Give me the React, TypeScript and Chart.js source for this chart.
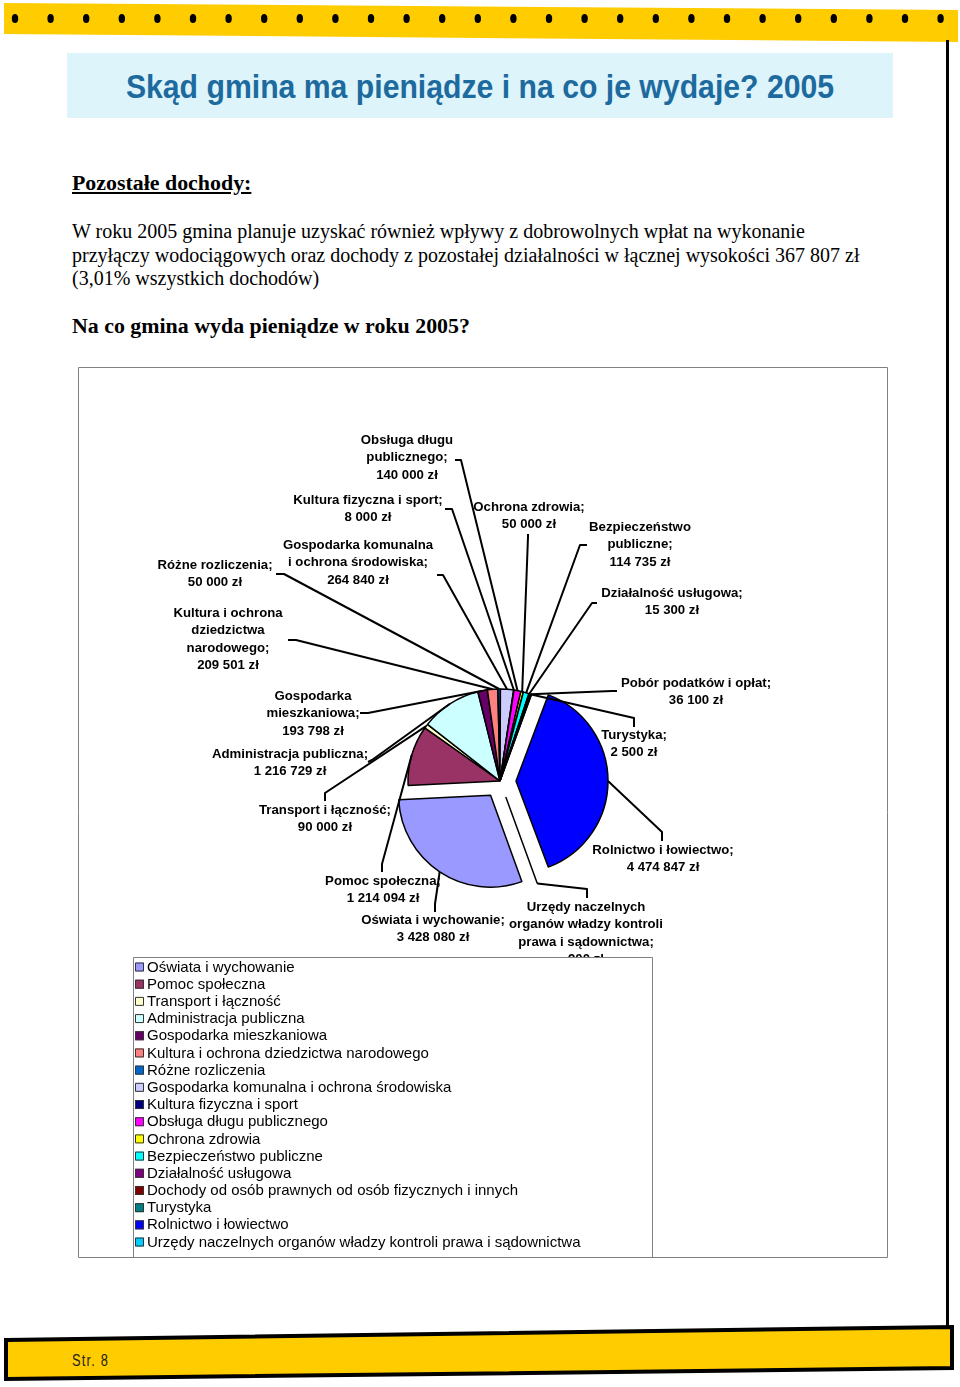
import React, { useEffect, useRef } from "react";
import { Chart, ArcElement, PieController } from "chart.js";

Chart.register(ArcElement, PieController);

// ---------- data ----------
const categories = [
  "Oświata i wychowanie",
  "Pomoc społeczna",
  "Transport i łączność",
  "Administracja publiczna",
  "Gospodarka mieszkaniowa",
  "Kultura i ochrona dziedzictwa narodowego",
  "Różne rozliczenia",
  "Gospodarka komunalna i ochrona środowiska",
  "Kultura fizyczna i sport",
  "Obsługa długu publicznego",
  "Ochrona zdrowia",
  "Bezpieczeństwo publiczne",
  "Działalność usługowa",
  "Dochody od osób prawnych od osób fizycznych i innych",
  "Turystyka",
  "Rolnictwo i łowiectwo",
  "Urzędy naczelnych organów władzy kontroli prawa i sądownictwa",
];

const pieLabelNames = [
  "Oświata i wychowanie",
  "Pomoc społeczna",
  "Transport i łączność",
  "Administracja publiczna",
  "Gospodarka\nmieszkaniowa",
  "Kultura i ochrona\ndziedzictwa\nnarodowego",
  "Różne rozliczenia",
  "Gospodarka komunalna\ni ochrona środowiska",
  "Kultura fizyczna i sport",
  "Obsługa długu\npublicznego",
  "Ochrona zdrowia",
  "Bezpieczeństwo\npubliczne",
  "Działalność usługowa",
  "Pobór podatków i opłat",
  "Turystyka",
  "Rolnictwo i łowiectwo",
  "Urzędy naczelnych\norganów władzy kontroli\nprawa i sądownictwa",
];

const values = [
  3428080, 1214094, 90000, 1216729, 193798, 209501, 50000, 264840, 8000,
  140000, 50000, 114735, 15300, 36100, 2500, 4474847, 900,
];

const sliceColors = [
  "#9999FF", "#993366", "#FFFFCC", "#CCFFFF", "#660066", "#FF8080",
  "#0066CC", "#CCCCFF", "#000080", "#FF00FF", "#FFFF00", "#00FFFF",
  "#800080", "#800000", "#008080", "#0000FF", "#00CCFF",
];

// ---------- layout / style ----------
const OX = 78; // canvas origin on page
const OY = 367;
const CW = 810;
const CH = 891;
const PIE_RADIUS = 92;
const explode: Record<number, number> = { 0: 17, 15: 16, 16: 17 };

// label text block (centre x, first line y) and leader anchor/elbow, page coords
const labelLayout = [
  { x: 433, y: 920, ax: 435, ay: 912, ex: 435, ey: 904 },
  { x: 383, y: 881, ax: 382, ay: 872, ex: 382, ey: 864 },
  { x: 325, y: 810, ax: 325, ay: 801, ex: 325, ey: 793 },
  { x: 290, y: 754, ax: 368, ay: 762, ex: 372, ey: 760 },
  { x: 313, y: 696, ax: 360, ay: 713, ex: 368, ey: 713 },
  { x: 228, y: 613, ax: 288, ay: 640, ex: 296, ey: 640 },
  { x: 215, y: 565, ax: 276, ay: 574, ex: 284, ey: 574 },
  { x: 358, y: 545, ax: 437, ay: 575, ex: 443, ey: 575 },
  { x: 368, y: 500, ax: 445, ay: 509, ex: 452, ey: 509 },
  { x: 407, y: 440, ax: 455, ay: 460, ex: 461, ey: 460 },
  { x: 529, y: 507, ax: 528, ay: 534, ex: 528, ey: 537 },
  { x: 640, y: 527, ax: 587, ay: 545, ex: 580, ey: 545 },
  { x: 672, y: 593, ax: 597, ay: 603, ex: 592, ey: 603 },
  { x: 696, y: 683, ax: 617, ay: 691, ex: 612, ey: 691 },
  { x: 634, y: 735, ax: 634, ay: 727, ex: 634, ey: 718 },
  { x: 663, y: 850, ax: 662, ay: 841, ex: 662, ey: 832 },
  { x: 586, y: 907, ax: 587, ay: 898, ex: 587, ey: 889 },
];

function offsetFor(i: number): number {
  const d = explode[i];
  if (!d) return 0;
  return 4 * d; // chart.js translates arcs by offset / 4
}

function fmt(v: number): string {
  return String(v).replace(/\B(?=(\d{3})+(?!\d))/g, " ") + " zł";
}

const LABEL_FONT = 'bold 13.2px "Liberation Sans", Arial, sans-serif';
const LEGEND_FONT = '15px "Liberation Sans", Arial, sans-serif';

const piePlugin = {
  id: "pieDecor",
  beforeDatasetsDraw(chart: any) {
    const meta = chart.getDatasetMeta(0);
    meta.data.forEach((arc: any) => {
      const off = (arc.options.offset || 0) / 4;
      const circ = arc.endAngle - arc.startAngle;
      const fix = 1 - Math.sin(Math.min(Math.PI, circ));
      arc.outerRadius = PIE_RADIUS - off * fix;
    });
  },
  afterDraw(chart: any) {
    const ctx: CanvasRenderingContext2D = chart.ctx;
    const meta = chart.getDatasetMeta(0);
    ctx.save();
    // leader lines
    ctx.strokeStyle = "#000";
    ctx.lineWidth = 2;
    ctx.lineJoin = "round";
    meta.data.forEach((arc: any, i: number) => {
      const L = labelLayout[i];
      const mid = (arc.startAngle + arc.endAngle) / 2;
      const off = (arc.options.offset || 0) / 4;
      const r = PIE_RADIUS + off;
      const sx = arc.x + Math.cos(mid) * r;
      const sy = arc.y + Math.sin(mid) * r;
      ctx.beginPath();
      ctx.moveTo(L.ax - OX, L.ay - OY);
      ctx.lineTo(L.ex - OX, L.ey - OY);
      ctx.lineTo(sx, sy);
      ctx.stroke();
    });
    // labels
    ctx.font = LABEL_FONT;
    ctx.fillStyle = "#000";
    ctx.textAlign = "center";
    ctx.textBaseline = "middle";
    const dsVals = chart.data.datasets[0].data as number[];
    dsVals.forEach((v: number, i: number) => {
      const L = labelLayout[i];
      const lines = (pieLabelNames[i] + ";").split("\n");
      lines.push(fmt(v));
      lines.forEach((t, k) => {
        ctx.fillText(t, L.x - OX, L.y - OY + k * 17.6);
      });
    });
    // legend box
    const lx = 133 - OX, ly = 957 - OY, lw = 652 - 133, lh = 1257 - 957;
    ctx.fillStyle = "#fff";
    ctx.fillRect(lx, ly, lw, lh);
    ctx.strokeStyle = "#808080";
    ctx.lineWidth = 1;
    ctx.strokeRect(lx + 0.5, ly + 0.5, lw, lh);
    ctx.font = LEGEND_FONT;
    ctx.textAlign = "left";
    ctx.textBaseline = "middle";
    const labels = chart.data.labels as string[];
    const bg = chart.data.datasets[0].backgroundColor as string[];
    labels.forEach((t, i) => {
      const cy = 967 - OY + i * 17.19;
      ctx.fillStyle = bg[i];
      ctx.fillRect(lx + 2, cy - 4.5, 9, 9);
      ctx.strokeStyle = "#333";
      ctx.lineWidth = 1;
      ctx.strokeRect(lx + 2.5, cy - 4, 8, 8);
      ctx.fillStyle = "#000";
      ctx.fillText(t, 147 - OX, cy + 0.5);
    });
    // outer frame
    ctx.strokeStyle = "#808080";
    ctx.lineWidth = 1;
    ctx.strokeRect(0.5, 0.5, CW - 1, CH - 1);
    ctx.restore();
  },
};

const serif = '"Liberation Serif", "Times New Roman", serif';

export default function App() {
  const ref = useRef<HTMLCanvasElement>(null);
  useEffect(() => {
    const chart = new Chart(ref.current as HTMLCanvasElement, {
      type: "pie",
      data: {
        labels: categories,
        datasets: [
          {
            data: values,
            backgroundColor: sliceColors,
            borderColor: "#000",
            borderWidth: 1.5,
            offset: values.map((_, i) => offsetFor(i)),
          } as any,
        ],
      },
      options: {
        responsive: false,
        animation: false,
        events: [],
        radius: PIE_RADIUS,
        rotation: 160,
        layout: { padding: { left: 34, right: 0, top: 0, bottom: 63 } },
        plugins: { legend: { display: false }, tooltip: { enabled: false } },
      } as any,
      plugins: [piePlugin],
    });
    return () => chart.destroy();
  }, []);

  const dots = [];
  for (let i = 0; i < 27; i++) {
    dots.push(<ellipse key={i} cx={15 + i * 35.6} cy={18.5} rx={3.2} ry={4.5} fill="#000" />);
  }

  return (
    <div style={{ position: "absolute", left: 0, top: 0, width: 960, height: 1387, overflow: "hidden", background: "#fff" }}>
      <svg width={960} height={1387} style={{ position: "absolute", left: 0, top: 0 }}>
        <polygon points="4,3 958,10 958,42 4,34" fill="#FFCC00" />
        {dots}
        <rect x={946} y={40} width={3} height={1290} fill="#000" />
        <polygon points="6,1340 952,1327 952,1368 6,1379" fill="#FFCC00" stroke="#000" strokeWidth={4} />
      </svg>
      <div style={{ position: "absolute", left: 67, top: 53, width: 826, height: 65, background: "#DDF4FB" }} />
      <div
        style={{
          position: "absolute",
          left: 67,
          top: 53,
          width: 826,
          height: 67,
          textAlign: "center",
          color: "#1D6B9E",
          fontFamily: '"Liberation Sans", Arial, sans-serif',
          fontWeight: "bold",
          fontSize: 33,
          lineHeight: "67px",
          whiteSpace: "nowrap",
        }}
      >
        <span style={{ display: "inline-block", transform: "scaleX(0.915)", transformOrigin: "50% 50%" }}>
          Skąd gmina ma pieniądze i na co je wydaje? 2005
        </span>
      </div>
      <div style={{ position: "absolute", left: 72, top: 171, fontFamily: serif, fontSize: 21.9, lineHeight: "23.5px", fontWeight: "bold", textDecoration: "underline", whiteSpace: "nowrap" }}>
        Pozostałe dochody:
      </div>
      <div style={{ position: "absolute", left: 72, top: 220, fontFamily: serif, fontSize: 20, lineHeight: "23.5px", whiteSpace: "nowrap" }}>
        W roku 2005 gmina planuje uzyskać również wpływy z dobrowolnych wpłat na wykonanie
        <br />
        przyłączy wodociągowych oraz dochody z pozostałej działalności w łącznej wysokości 367 807 zł
        <br />
        (3,01% wszystkich dochodów)
      </div>
      <div style={{ position: "absolute", left: 72, top: 314, fontFamily: serif, fontSize: 21.9, lineHeight: "23.5px", fontWeight: "bold", whiteSpace: "nowrap" }}>
        Na co gmina wyda pieniądze w roku 2005?
      </div>
      <canvas ref={ref} width={CW} height={CH} style={{ position: "absolute", left: OX, top: OY, width: CW, height: CH }} />
      <div style={{ position: "absolute", left: 72, top: 1351, color: "#222", fontFamily: '"Liberation Sans", Arial, sans-serif', fontSize: 16, lineHeight: "20px", whiteSpace: "nowrap" }}>
        <span style={{ display: "inline-block", transform: "scaleX(0.8)", transformOrigin: "0 50%", letterSpacing: 1.5 }}>Str. 8</span>
      </div>
    </div>
  );
}
